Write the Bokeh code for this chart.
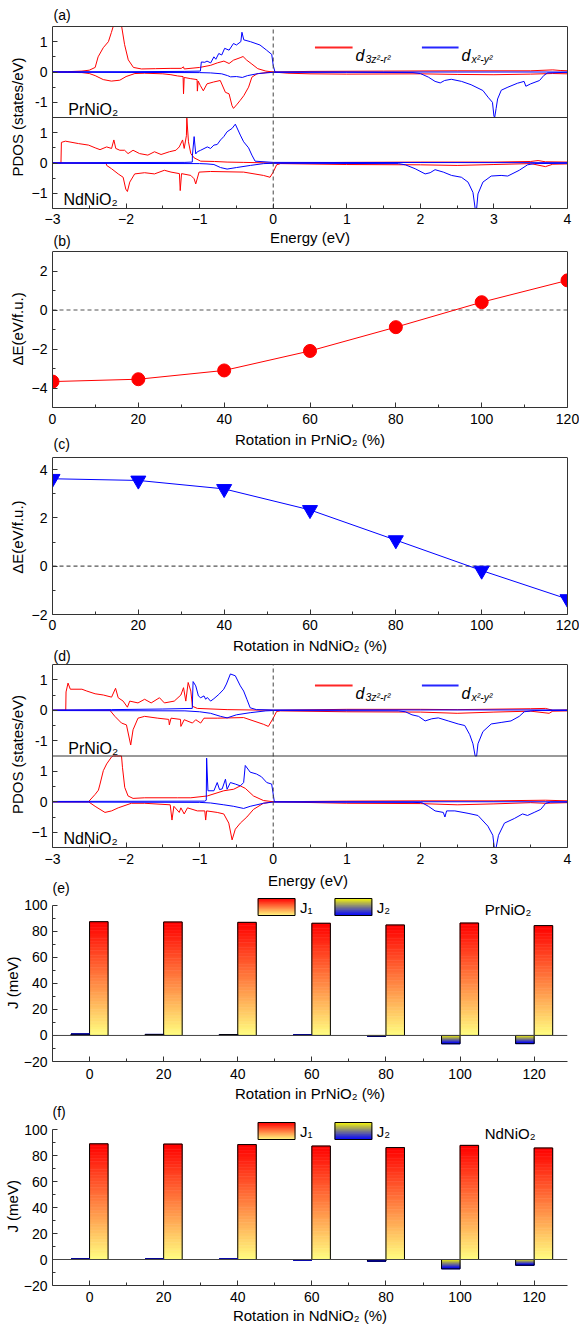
import numpy as np
from bokeh.plotting import figure
from bokeh.layouts import column
from bokeh.models import Label, Span, FixedTicker, Range1d, LinearAxis
from bokeh.embed import file_html
from bokeh.resources import INLINE

FONT = "Liberation Sans"
RED = "#ff0000"
BLUE = "#0000ff"
AX = "#333333"

# ---------------- data ----------------
ENERGY_TICKS = [-3, -2, -1, 0, 1, 2, 3, 4]
ROT = [0, 20, 40, 60, 80, 100, 120]
DE_PR = [-3.67, -3.55, -3.1, -2.1, -0.88, 0.4, 1.52]      # panel (b)
DE_ND = [3.62, 3.55, 3.2, 2.33, 1.08, -0.18, -1.36]       # panel (c)
J1_PR = [87.4, 87.2, 86.9, 86.2, 84.9, 86.4, 84.4]        # panel (e)
J2_PR = [1.0, 0.8, 0.7, 0.3, -0.5, -6.4, -6.3]
J1_ND = [89.0, 88.8, 88.4, 87.3, 86.1, 87.8, 85.8]        # panel (f)
J2_ND = [0.3, 0.3, 0.2, -0.2, -1.2, -7.2, -4.4]

# PDOS (energy eV, states/eV); RU/RD = d3z2-r2 up/down, BU/BD = dx2-y2 up/down
# panel (a) top: PrNiO2
PA_RU = [(-3.0,0.0),(-2.8,0.01),(-2.6,0.03),(-2.5,0.06),(-2.42,0.15),(-2.38,0.5),(-2.31,0.8),(-2.24,1.0),(-2.2,1.3),(-2.175,1.6),(-2.15,2.2),(-2.12,2.5),(-2.085,2.2),(-2.06,1.5),(-2.02,0.9),(-1.97,0.4),(-1.9,0.15),(-1.79,0.1),(-1.6,0.11),(-1.39,0.12),(-1.25,0.12),(-1.22,0.17),(-1.21,0.1),(-1.0,0.15),(-0.85,0.22),(-0.76,0.3),(-0.67,0.36),(-0.6,0.28),(-0.54,0.39),(-0.45,0.47),(-0.41,0.51),(-0.36,0.39),(-0.3,0.28),(-0.21,0.11),(-0.1,0.03),(0.0,0.0),(0.5,0.02),(1.5,0.03),(2.5,0.04),(3.5,0.04),(3.8,0.07),(3.9,0.05),(4.0,0.04)]
PA_RD = [(-3.0,0.0),(-2.6,-0.02),(-2.5,-0.05),(-2.42,-0.12),(-2.31,-0.25),(-2.2,-0.3),(-2.085,-0.27),(-2.0,-0.15),(-1.88,-0.05),(-1.75,-0.04),(-1.5,-0.06),(-1.39,-0.09),(-1.3,-0.13),(-1.225,-0.15),(-1.219,-0.72),(-1.21,-0.18),(-1.12,-0.22),(-1.035,-0.25),(-1.031,-0.63),(-1.02,-0.3),(-0.99,-0.45),(-0.95,-0.62),(-0.9,-0.39),(-0.81,-0.33),(-0.72,-0.28),(-0.65,-0.67),(-0.6,-0.72),(-0.56,-1.11),(-0.54,-1.2),(-0.49,-1.06),(-0.45,-0.94),(-0.4,-0.78),(-0.335,-0.5),(-0.29,-0.17),(-0.22,-0.06),(-0.1,-0.02),(0.0,0.0),(0.2,-0.04),(0.5,-0.06),(1.0,-0.07),(2.0,-0.06),(2.5,-0.08),(3.0,-0.09),(3.5,-0.07),(3.8,-0.05),(4.0,-0.06)]
PA_BU = [(-3.0,0.01),(-2.0,0.01),(-1.2,0.02),(-0.99,0.03),(-0.977,0.33),(-0.93,0.32),(-0.9,0.36),(-0.85,0.3),(-0.806,0.5),(-0.78,0.42),(-0.74,0.61),(-0.7,0.56),(-0.66,0.78),(-0.6,0.72),(-0.54,0.94),(-0.5,0.89),(-0.44,1.0),(-0.425,1.31),(-0.4,1.06),(-0.31,1.0),(-0.18,0.89),(-0.09,0.72),(-0.02,0.58),(0.0,0.22),(0.024,0.0),(4.0,0.0)]
PA_BD = [(-3.0,-0.01),(-1.0,-0.02),(-0.85,-0.03),(-0.7,-0.06),(-0.62,-0.12),(-0.58,-0.16),(-0.5,-0.15),(-0.42,-0.18),(-0.35,-0.12),(-0.2,-0.05),(0.0,-0.01),(1.0,-0.01),(1.9,-0.02),(2.0,-0.05),(2.11,-0.17),(2.2,-0.31),(2.27,-0.36),(2.33,-0.28),(2.42,-0.24),(2.56,-0.31),(2.69,-0.42),(2.85,-0.61),(2.92,-0.83),(2.98,-1.0),(3.0,-1.45),(3.01,-1.6),(3.03,-1.2),(3.05,-0.89),(3.1,-0.6),(3.19,-0.5),(3.32,-0.37),(3.41,-0.31),(3.434,-0.47),(3.5,-0.39),(3.62,-0.28),(3.68,-0.11),(3.73,-0.03),(4.0,-0.01)]
# panel (a) bottom: NdNiO2
NA_RU = [(-3.0,0.0),(-2.885,0.0),(-2.879,0.68),(-2.825,0.72),(-2.646,0.64),(-2.51,0.59),(-2.42,0.5),(-2.354,0.44),(-2.264,0.53),(-2.197,0.48),(-2.166,0.76),(-2.14,0.48),(-2.085,0.42),(-2.02,0.42),(-1.973,0.31),(-1.905,0.42),(-1.816,0.31),(-1.704,0.26),(-1.614,0.37),(-1.524,0.28),(-1.412,0.37),(-1.322,0.42),(-1.277,0.53),(-1.232,0.76),(-1.21,0.48),(-1.18,0.9),(-1.174,1.48),(-1.152,0.7),(-1.12,0.31),(-1.075,0.17),(-0.986,0.06),(-0.8,0.05),(-0.627,0.03),(-0.4,0.02),(0.0,0.0),(1.0,0.02),(2.0,0.03),(3.0,0.03),(3.5,0.05),(3.6,0.08),(3.7,0.04),(4.0,0.03)]
NA_RD = [(-3.0,0.0),(-2.27,-0.01),(-2.264,-0.08),(-2.197,-0.19),(-2.107,-0.36),(-2.04,-0.47),(-2.004,-0.86),(-1.982,-0.94),(-1.95,-0.63),(-1.883,-0.36),(-1.748,-0.32),(-1.614,-0.36),(-1.479,-0.24),(-1.389,-0.3),(-1.275,-0.35),(-1.264,-0.91),(-1.246,-0.35),(-1.12,-0.41),(-1.075,-0.52),(-1.053,-0.69),(-1.008,-0.3),(-0.851,-0.28),(-0.402,-0.3),(-0.133,-0.41),(-0.043,-0.47),(0.0,-0.3),(0.046,-0.06),(0.1,-0.02),(1.0,-0.05),(2.0,-0.06),(2.5,-0.08),(3.0,-0.05),(3.5,-0.02),(3.7,-0.12),(3.8,-0.04),(4.0,-0.03)]
NA_BU = [(-3.0,0.01),(-1.2,0.02),(-1.1,0.03),(-1.098,0.26),(-1.075,0.87),(-1.053,0.3),(-1.031,0.37),(-0.986,0.42),(-0.896,0.53),(-0.851,0.48),(-0.806,0.59),(-0.761,0.61),(-0.716,0.76),(-0.672,0.87),(-0.627,1.03),(-0.559,1.14),(-0.515,1.28),(-0.447,0.92),(-0.402,0.7),(-0.335,0.5),(-0.29,0.26),(-0.246,0.06),(0.0,0.02),(4.0,0.01)]
NA_BD = [(-3.0,-0.01),(-1.0,-0.02),(-0.9,-0.03),(-0.806,-0.05),(-0.716,-0.15),(-0.627,-0.2),(-0.5,-0.15),(-0.31,-0.08),(-0.13,-0.02),(0.0,-0.01),(1.7,-0.02),(1.796,-0.06),(1.93,-0.19),(2.065,-0.36),(2.133,-0.32),(2.2,-0.22),(2.312,-0.3),(2.424,-0.41),(2.558,-0.47),(2.648,-0.63),(2.715,-0.97),(2.745,-1.6),(2.765,-1.6),(2.783,-1.02),(2.85,-0.63),(2.963,-0.43),(3.098,-0.41),(3.188,-0.43),(3.344,-0.24),(3.457,-0.06),(3.547,-0.02),(4.0,-0.01)]
# panel (d) top: PrNiO2
PD_RU = [(-3.0,0.0),(-2.82,0.0),(-2.816,0.6),(-2.789,0.89),(-2.758,0.69),(-2.6,0.69),(-2.534,0.63),(-2.421,0.54),(-2.309,0.5),(-2.197,0.43),(-2.143,0.72),(-2.107,0.41),(-2.04,0.3),(-1.982,0.1),(-1.95,0.3),(-1.838,0.24),(-1.748,0.36),(-1.659,0.24),(-1.546,0.41),(-1.479,0.24),(-1.345,0.3),(-1.255,0.5),(-1.219,0.74),(-1.188,0.3),(-1.156,0.91),(-1.12,0.63),(-1.098,0.13),(-1.031,0.06),(-0.627,0.02),(0.0,0.0),(1.0,0.03),(2.0,0.03),(2.5,0.02),(3.5,0.05),(3.7,0.06),(3.8,0.0),(4.0,0.01)]
PD_RD = [(-3.0,0.0),(-2.22,0.0),(-2.152,-0.2),(-2.062,-0.42),(-1.995,-0.48),(-1.937,-1.14),(-1.905,-0.64),(-1.838,-0.26),(-1.748,-0.2),(-1.569,-0.26),(-1.42,-0.3),(-1.412,-0.48),(-1.389,-0.26),(-1.26,-0.3),(-1.255,-0.53),(-1.21,-0.31),(-1.098,-0.42),(-1.053,-0.31),(-0.986,-0.42),(-0.941,-0.26),(-0.761,-0.26),(-0.402,-0.24),(-0.133,-0.46),(-0.066,-0.53),(0.0,-0.26),(0.046,-0.04),(0.1,-0.02),(1.0,-0.05),(2.0,-0.06),(2.5,-0.1),(3.0,-0.06),(3.5,-0.03),(3.75,-0.1),(3.8,-0.03),(4.0,-0.02)]
PD_BU = [(-3.0,0.01),(-2.2,0.02),(-1.5,0.04),(-1.1,0.06),(-1.095,0.5),(-1.089,0.94),(-1.053,0.8),(-1.017,0.47),(-0.986,0.41),(-0.941,0.47),(-0.918,0.36),(-0.896,0.42),(-0.851,0.3),(-0.806,0.38),(-0.739,0.52),(-0.672,0.69),(-0.636,0.86),(-0.582,1.19),(-0.515,1.13),(-0.447,0.8),(-0.402,0.63),(-0.358,0.36),(-0.313,0.08),(-0.228,0.02),(0.0,0.01),(4.0,0.01)]
PD_BD = [(-3.0,-0.01),(-1.2,-0.02),(-1.0,-0.05),(-0.851,-0.1),(-0.716,-0.2),(-0.627,-0.25),(-0.5,-0.15),(-0.313,-0.08),(-0.1,-0.02),(0.0,-0.01),(1.7,-0.02),(1.796,-0.05),(1.886,-0.15),(1.976,-0.2),(2.065,-0.35),(2.155,-0.28),(2.244,-0.25),(2.379,-0.35),(2.514,-0.45),(2.603,-0.5),(2.671,-0.8),(2.715,-1.1),(2.745,-1.6),(2.765,-1.6),(2.783,-1.1),(2.85,-0.7),(2.963,-0.45),(3.098,-0.4),(3.232,-0.35),(3.344,-0.2),(3.412,-0.05),(3.547,-0.01),(4.0,-0.01)]
# panel (d) bottom: NdNiO2
ND_RU = [(-3.0,0.0),(-2.511,0.0),(-2.421,0.24),(-2.376,0.38),(-2.354,0.58),(-2.309,1.02),(-2.264,1.24),(-2.197,1.47),(-2.175,1.7),(-2.13,2.3),(-2.062,2.0),(-2.049,1.13),(-2.018,0.47),(-1.973,0.19),(-1.905,0.11),(-1.748,0.13),(-1.3,0.13),(-1.12,0.13),(-0.896,0.19),(-0.672,0.36),(-0.537,0.41),(-0.447,0.52),(-0.38,0.44),(-0.268,0.19),(-0.133,0.04),(0.0,0.0),(1.0,0.02),(2.0,0.03),(3.0,0.03),(3.7,0.05),(4.0,0.03)]
ND_RD = [(-3.0,0.0),(-2.511,0.0),(-2.421,-0.15),(-2.287,-0.35),(-2.197,-0.3),(-2.107,-0.2),(-1.928,-0.05),(-1.748,-0.05),(-1.4,-0.1),(-1.376,-0.6),(-1.35,-0.15),(-1.277,-0.35),(-1.255,-0.2),(-1.21,-0.4),(-1.165,-0.2),(-1.031,-0.3),(-0.93,-0.3),(-0.918,-0.6),(-0.905,-0.3),(-0.761,-0.35),(-0.672,-0.4),(-0.604,-0.7),(-0.559,-1.25),(-0.515,-0.9),(-0.447,-0.7),(-0.358,-0.5),(-0.268,-0.25),(-0.133,-0.05),(0.0,0.0),(1.0,-0.05),(2.0,-0.06),(2.5,-0.1),(3.0,-0.07),(3.5,-0.03),(3.7,-0.05),(4.0,-0.03)]
ND_BU = [(-3.0,0.01),(-0.93,0.02),(-0.91,0.05),(-0.905,1.43),(-0.887,0.36),(-0.806,0.36),(-0.761,0.63),(-0.73,0.4),(-0.694,0.42),(-0.649,0.74),(-0.627,0.41),(-0.582,0.63),(-0.515,0.58),(-0.447,0.52),(-0.402,0.63),(-0.38,1.19),(-0.313,0.97),(-0.228,0.91),(-0.16,0.82),(-0.088,0.63),(-0.021,0.58),(0.0,0.25),(0.015,0.0),(4.0,0.0)]
ND_BD = [(-3.0,-0.01),(-1.0,-0.02),(-0.851,-0.04),(-0.672,-0.1),(-0.537,-0.15),(-0.402,-0.22),(-0.313,-0.15),(-0.133,-0.05),(0.0,-0.01),(1.9,-0.02),(2.02,-0.03),(2.11,-0.15),(2.2,-0.3),(2.312,-0.35),(2.334,-0.5),(2.357,-0.3),(2.469,-0.3),(2.648,-0.38),(2.783,-0.45),(2.918,-0.8),(2.985,-1.1),(3.005,-1.6),(3.03,-1.6),(3.062,-1.1),(3.143,-0.7),(3.277,-0.55),(3.389,-0.4),(3.457,-0.45),(3.547,-0.35),(3.636,-0.25),(3.704,-0.05),(3.771,-0.01),(4.0,-0.01)]

# ---------------- helpers ----------------
W = 579            # Bokeh's page template has no body margin
NBSP = "\u00a0"


def px2d(g, px, py):
    L, R, T, B, (x0, x1), (y0, y1) = g
    return x0 + (px - L) / (R - L) * (x1 - x0), y1 - (py - T) / (B - T) * (y1 - y0)


def make_fig(page_top, height, L, B, xr, y_lo, y_box_hi, box_top, R=567):
    """Frame spans from the top of the canvas to page row B; the drawn box
    covers y_lo..y_box_hi, whose top edge sits at page row box_top."""
    T = page_top
    y_hi = y_lo + (y_box_hi - y_lo) * (B - T) / (B - box_top)
    p = figure(width=W, height=height, x_range=Range1d(*xr), y_range=Range1d(y_lo, y_hi),
               output_backend="svg", toolbar_location=None, tools="",
               min_border_left=L, min_border_right=W - R,
               min_border_top=0, min_border_bottom=page_top + height - B)
    p.xgrid.visible = False
    p.ygrid.visible = False
    p.background_fill_color = "white"
    p.border_fill_color = "white"
    p.outline_line_color = None
    return p, (L, R, T, B, xr, (y_lo, y_hi))


def style_axes(p, xt, xm, yt, ym, xs=5, ys=5):
    for ax, t, m in ((p.xaxis[0], xt, xm), (p.yaxis[0], yt, ym)):
        ax.ticker = FixedTicker(ticks=t, minor_ticks=m)
        ax.major_tick_in = 5
        ax.major_tick_out = 0
        ax.minor_tick_in = 3
        ax.minor_tick_out = 0
        ax.axis_line_color = AX
        ax.major_tick_line_color = AX
        ax.minor_tick_line_color = AX
        ax.major_label_text_font = FONT
        ax.major_label_text_font_size = "14px"
        ax.major_label_text_color = "black"
    p.xaxis[0].major_label_standoff = xs
    p.yaxis[0].major_label_standoff = ys


def add_box(p, y_lo, y_hi):
    p.yaxis[0].bounds = (y_lo, y_hi)
    p.add_layout(Span(location=y_hi, dimension="width", line_color=AX, line_width=1))
    rax = LinearAxis(bounds=(y_lo, y_hi), ticker=FixedTicker(ticks=[]), axis_line_color=AX,
                     major_tick_in=0, major_tick_out=0, minor_tick_in=0, minor_tick_out=0,
                     major_label_text_font_size="0px", major_label_standoff=0)
    p.add_layout(rax, "right")


def set_ytitle(p, g, text, center_py, standoff, size=15):
    L, R, T, B, xr, yr = g
    shift = center_py - (T + B) / 2.0
    n = max(0, int(round(2.0 * shift / (0.278 * size))))
    ax = p.yaxis[0]
    ax.axis_label = text + NBSP * n
    ax.axis_label_text_font = FONT
    ax.axis_label_text_font_size = "%dpx" % size
    ax.axis_label_text_font_style = "normal"
    ax.axis_label_text_color = "black"
    ax.axis_label_standoff = standoff


def add_text(p, g, px, py, text, size="14px", align="left", baseline="middle", style="normal"):
    x, y = px2d(g, px, py)
    p.add_layout(Label(x=x, y=y, text=text, text_font=FONT, text_font_size=size,
                       text_align=align, text_baseline=baseline,
                       text_font_style=style, text_color="black"))


def hexcol(c):
    return "#%02x%02x%02x" % tuple(int(round(v)) for v in c)


def gradient_bars(p, lefts, rights, y0s, y1s, c0, c1, n=40):
    L, R, BO, TO, C = [], [], [], [], []
    for l, r, a, b in zip(lefts, rights, y0s, y1s):
        edges = np.linspace(a, b, n + 1)
        for k in range(n):
            t = (k + 0.5) / n
            col = hexcol([c0[i] + (c1[i] - c0[i]) * t for i in range(3)])
            L.append(l); R.append(r)
            BO.append(min(edges[k], edges[k + 1])); TO.append(max(edges[k], edges[k + 1]))
            C.append(col)
    p.quad(left=L, right=R, bottom=BO, top=TO, fill_color=C, line_color=C, line_width=0.6)
    p.quad(left=list(lefts), right=list(rights),
           bottom=[min(a, b) for a, b in zip(y0s, y1s)], top=[max(a, b) for a, b in zip(y0s, y1s)],
           fill_color=None, line_color="black", line_width=1)


PD_LO, PD_HI = -1.5, 4.5   # each PDOS box stacks two -1.5..1.5 sub-panels


def pdos_panel(page_top, height, B, box_top, xs, top_sets, bot_sets,
               top_name_y, bot_name_y, legend_y, ytitle_y):
    p, g = make_fig(page_top, height, 47, B, (-3, 4), PD_LO, PD_HI, box_top)
    style_axes(p, ENERGY_TICKS, [x + 0.5 for x in range(-3, 4)],
               [-1, 0, 1, 2, 3, 4], [-0.5, 0.5, 2.5, 3.5], xs=xs, ys=5)
    p.yaxis[0].major_label_overrides = {2: "-1", 3: "0", 4: "1"}
    add_box(p, PD_LO, PD_HI)
    for sets, off in ((bot_sets, 0.0), (top_sets, 3.0)):
        for pts, col in zip(sets, [RED, RED, BLUE, BLUE]):
            e = [q[0] for q in pts]
            v = np.clip([q[1] for q in pts], -1.5, 1.5) + off
            p.line(e, v, line_color=col, line_width=1)
    p.add_layout(Span(location=1.5, dimension="width", line_color=AX, line_width=1))
    p.segment(x0=[0], y0=[PD_LO], x1=[0], y1=[PD_HI], line_color="#444444",
              line_width=1, line_dash="4 3")
    # legend keys (thin filled strips)
    for xa, xb, col, sub in ((312, 350, RED, "3z²-r²"), (420, 457, BLUE, "x²-y²")):
        (qx0, qy0), (qx1, qy1) = px2d(g, xa, legend_y + 0.9), px2d(g, xb, legend_y - 0.9)
        p.quad(left=[qx0], right=[qx1], bottom=[qy0], top=[qy1], fill_color=col,
               fill_alpha=0.85, line_color=None)
        add_text(p, g, xb + 3, legend_y + 8, "d", size="16px", baseline="alphabetic", style="italic")
        add_text(p, g, xb + 13, legend_y + 11.5, sub, size="10.5px", baseline="alphabetic", style="italic")
    add_text(p, g, 63, top_name_y, "PrNiO₂", size="16px", baseline="alphabetic")
    add_text(p, g, 58, bot_name_y, "NdNiO₂", size="16px", baseline="alphabetic")
    set_ytitle(p, g, "PDOS (states/eV)", ytitle_y, standoff=3)
    return p, g


# ---------------- panel (a) ----------------
pA, gA = pdos_panel(0, 229, 208, 26, 5, [PA_RU, PA_RD, PA_BU, PA_BD], [NA_RU, NA_RD, NA_BU, NA_BD],
                    109, 199, 47, 117)
add_text(pA, gA, 48, 14, "(a)")

# ---------------- panel (b) ----------------
pB, gB = make_fig(229, 201, 47, 407, (0, 120), -5, 3, 251)
style_axes(pB, ROT, [10, 30, 50, 70, 90, 110], [-4, -2, 0, 2], [-3, -1, 1], xs=6)
add_box(pB, -5, 3)
pB.add_layout(Span(location=0, dimension="width", line_color="#555555", line_width=1.2,
                   line_dash="4 3", level="underlay"))
pB.line(ROT, DE_PR, line_color=RED, line_width=1)
pB.scatter(ROT, DE_PR, marker="circle", size=13, fill_color=RED, line_color=RED)
set_ytitle(pB, gB, "ΔE(eV/f.u.)", 329, standoff=3)
add_text(pB, gB, 307, 237, "Energy (eV)", size="15px", align="center")   # x title of (a)
add_text(pB, gB, 48, 240, "(b)")

# ---------------- panel (c) ----------------
pC, gC = make_fig(430, 206, 47, 614, (0, 120), -2, 4.5, 457)
style_axes(pC, ROT, [10, 30, 50, 70, 90, 110], [-2, 0, 2, 4], [-1, 1, 3], xs=5)
add_box(pC, -2, 4.5)
pC.add_layout(Span(location=0, dimension="width", line_color="#555555", line_width=1.2,
                   line_dash="4 3", level="underlay"))
pC.line(ROT, DE_ND, line_color=BLUE, line_width=1)
pC.scatter(ROT, DE_ND, marker="inverted_triangle", size=15, fill_color=BLUE, line_color=BLUE)
set_ytitle(pC, gC, "ΔE(eV/f.u.)", 537, standoff=3)
add_text(pC, gC, 307, 439, "Rotation in PrNiO₂ (%)", size="15px", align="center")   # x title of (b)
add_text(pC, gC, 48, 443, "(c)")

# ---------------- panel (d) ----------------
pD, gD = pdos_panel(636, 234, 847, 664, 6, [PD_RU, PD_RD, PD_BU, PD_BD], [ND_RU, ND_RD, ND_BU, ND_BD],
                    748, 838, 685, 755)
add_text(pD, gD, 307, 645, "Rotation in NdNiO₂ (%)", size="15px", align="center")   # x title of (c)
add_text(pD, gD, 48, 655, "(d)")


# ---------------- panels (e), (f) ----------------
def exchange_panel(page_top, height, B, top100, xs, j1, j2, name, lg_top, lg_bot, ytitle_y):
    p, g = make_fig(page_top, height, 51, B, (-10, 129), -20, 100, top100)
    style_axes(p, ROT, [10, 30, 50, 70, 90, 110], list(range(-20, 101, 20)),
               list(range(-10, 100, 20)), xs=xs, ys=5)
    p.yaxis[0].bounds = (-20, 100)
    p.add_layout(Span(location=0, dimension="width", line_color="#444444", line_width=1))
    gradient_bars(p, [r for r in ROT], [r + 5 for r in ROT], [0] * len(ROT), j1,
                  (255, 255, 128), (255, 0, 0))
    gradient_bars(p, [r - 5 for r in ROT], [r for r in ROT], [0] * len(ROT), j2,
                  (255, 255, 0), (0, 0, 255))
    # legend swatches
    (ax0, ay0), (ax1, ay1) = px2d(g, 257, lg_bot), px2d(g, 294, lg_top)
    gradient_bars(p, [ax0], [ax1], [ay0], [ay1], (255, 255, 128), (255, 0, 0), n=24)
    (bx0, by0), (bx1, by1) = px2d(g, 334, lg_bot), px2d(g, 371, lg_top)
    gradient_bars(p, [bx0], [bx1], [by1], [by0], (255, 255, 0), (0, 0, 255), n=24)
    mid = (lg_top + lg_bot) / 2
    add_text(p, g, 299, mid, "J₁", size="15px")
    add_text(p, g, 376, mid, "J₂", size="15px")
    add_text(p, g, 484, mid + 2, name, size="15px")
    set_ytitle(p, g, "J (meV)", ytitle_y, standoff=0)
    return p, g


pE, gE = exchange_panel(870, 215, 1061, 904.8, 7, J1_PR, J2_PR, "PrNiO₂", 898, 915, 982)
add_text(pE, gE, 307, 880, "Energy (eV)", size="15px", align="center")   # x title of (d)
add_text(pE, gE, 51, 887, "(e)")

pF, gF = exchange_panel(1085, 241, 1285, 1129, 6, J1_ND, J2_ND, "NdNiO₂", 1122, 1139, 1206)
add_text(pF, gF, 309, 1093, "Rotation in PrNiO₂ (%)", size="15px", align="center")  # x title of (e)
add_text(pF, gF, 51, 1111, "(f)")
xf = pF.xaxis[0]
xf.axis_label = "Rotation in NdNiO₂ (%)"
xf.axis_label_text_font = FONT
xf.axis_label_text_font_size = "15px"
xf.axis_label_text_font_style = "normal"
xf.axis_label_text_color = "black"
xf.axis_label_standoff = 2

layout = column(pA, pB, pC, pD, pE, pF, spacing=0)
open("out.html", "w").write(file_html(layout, INLINE, "PDOS"))
